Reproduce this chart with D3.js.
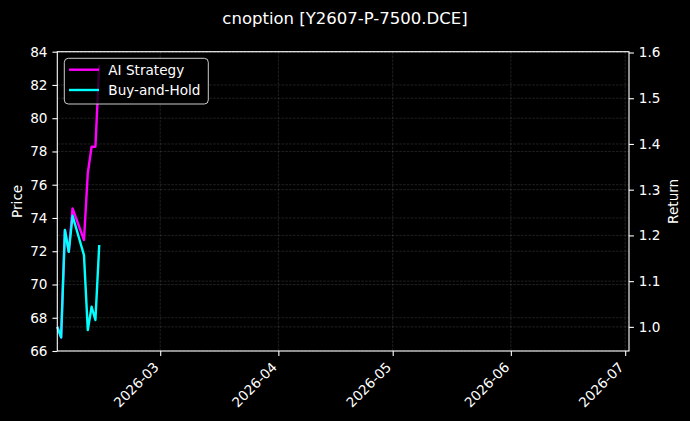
<!DOCTYPE html>
<html lang="en">
<head>
    <meta charset="UTF-8">
    <title>cnoption [Y2607-P-7500.DCE]</title>
    <script src="https://d3js.org/d3.v7.min.js"></script>
    <style>
        body {
            margin: 0;
            padding: 0;
            background-color: #000000;
        }
        svg text {
            font-family: "DejaVu Sans", sans-serif;
            fill: #ffffff;
        }
        .grid line {
            stroke: #8a8a8a;
            stroke-opacity: 0.4;
            stroke-width: 0.6;
            stroke-dasharray: 2.6, 1.2;
        }
    </style>
</head>
<body>
    <div id="chart"></div>

    <script>
        // trading days and equity curves (normalised to 1.0)
        const dates = ["2026-02-02", "2026-02-03", "2026-02-04", "2026-02-05", "2026-02-06",
                       "2026-02-09", "2026-02-10", "2026-02-11", "2026-02-12", "2026-02-13"];
        const aiStrategy = [1.000, 0.977, 1.212, 1.164, 1.259, 1.190, 1.336, 1.394, 1.394, 1.572];
        const buyHold    = [1.000, 0.977, 1.212, 1.164, 1.243, 1.157, 0.993, 1.044, 1.015, 1.179];

        const xRange = ["2026-02-02", "2026-07-02"];
        const monthTicks = ["2026-03-01", "2026-04-01", "2026-05-01", "2026-06-01", "2026-07-01"];
        const priceRange = [66, 84];
        const priceTicks = [66, 68, 70, 72, 74, 76, 78, 80, 82, 84];
        const returnTicks = [1.0, 1.1, 1.2, 1.3, 1.4, 1.5, 1.6];

        const width = 690;
        const height = 421;
        const margin = {top: 51.7, right: 61, bottom: 70, left: 57.3};
        const innerW = width - margin.left - margin.right;
        const innerH = height - margin.top - margin.bottom;
        const tickLen = 4.9;
        const fontSize = 13.6;

        const parse = d3.utcParse("%Y-%m-%d");

        const svg = d3.select("#chart")
            .append("svg")
            .attr("width", width)
            .attr("height", height)
            .style("background", "#000");

        const g = svg.append("g")
            .attr("transform", `translate(${margin.left},${margin.top})`);

        const x = d3.scaleUtc()
            .domain(xRange.map(parse))
            .range([0, innerW]);

        const yPrice = d3.scaleLinear()
            .domain(priceRange)
            .range([innerH, 0]);

        // matplotlib style 5% autoscale margin on the return axis
        const allRet = aiStrategy.concat(buyHold);
        const rMin = d3.min(allRet), rMax = d3.max(allRet);
        const pad = (rMax - rMin) * 0.05;
        const yRet = d3.scaleLinear()
            .domain([rMin - pad, rMax + pad])
            .range([innerH, 0]);

        // grid
        const grid = g.append("g").attr("class", "grid");
        grid.selectAll(".vx")
            .data(monthTicks.map(parse))
            .enter().append("line")
            .attr("x1", d => x(d)).attr("x2", d => x(d))
            .attr("y1", 0).attr("y2", innerH);
        grid.selectAll(".hp")
            .data(priceTicks)
            .enter().append("line")
            .attr("x1", 0).attr("x2", innerW)
            .attr("y1", d => yPrice(d)).attr("y2", d => yPrice(d));
        grid.selectAll(".hr")
            .data(returnTicks)
            .enter().append("line")
            .attr("x1", 0).attr("x2", innerW)
            .attr("y1", d => yRet(d)).attr("y2", d => yRet(d));

        // lines
        const pts = arr => arr.map((v, i) => [parse(dates[i]), v]);
        const line = d3.line()
            .x(d => x(d[0]))
            .y(d => yRet(d[1]));

        const plot = g.append("g");
        plot.append("path")
            .datum(pts(aiStrategy))
            .attr("fill", "none")
            .attr("stroke", "#ff00ff")
            .attr("stroke-width", 2.4)
            .attr("stroke-linejoin", "round")
            .attr("d", line);
        plot.append("path")
            .datum(pts(buyHold))
            .attr("fill", "none")
            .attr("stroke", "#00ffff")
            .attr("stroke-width", 2.4)
            .attr("stroke-linejoin", "round")
            .attr("d", line);

        // axes
        function styleAxis(sel) {
            sel.select(".domain").remove();
            sel.selectAll(".tick line").attr("stroke", "#fff").attr("stroke-width", 1.1);
            sel.selectAll(".tick text")
                .style("font-size", fontSize + "px")
                .attr("fill", "#fff");
        }

        const xAxis = g.append("g")
            .attr("transform", `translate(0,${innerH})`)
            .call(d3.axisBottom(x)
                .tickValues(monthTicks.map(parse))
                .tickFormat(d3.utcFormat("%Y-%m"))
                .tickSize(tickLen)
                .tickPadding(0));
        styleAxis(xAxis);
        xAxis.selectAll(".tick text")
            .attr("text-anchor", "end")
            .attr("dy", null)
            .attr("y", null)
            .attr("transform", "translate(-1,17) rotate(-45)");

        const yAxisL = g.append("g")
            .call(d3.axisLeft(yPrice)
                .tickValues(priceTicks)
                .tickSize(tickLen)
                .tickPadding(4.9));
        styleAxis(yAxisL);

        const yAxisR = g.append("g")
            .attr("transform", `translate(${innerW},0)`)
            .call(d3.axisRight(yRet)
                .tickValues(returnTicks)
                .tickFormat(d3.format(".1f"))
                .tickSize(tickLen)
                .tickPadding(4.9));
        styleAxis(yAxisR);

        // frame
        g.append("rect")
            .attr("width", innerW)
            .attr("height", innerH)
            .attr("fill", "none")
            .attr("stroke", "#fff")
            .attr("stroke-width", 1.1);

        // axis labels
        svg.append("text")
            .attr("transform", `translate(22,${margin.top + innerH / 2}) rotate(-90)`)
            .attr("text-anchor", "middle")
            .style("font-size", fontSize + "px")
            .text("Price");
        svg.append("text")
            .attr("transform", `translate(678,${margin.top + innerH / 2}) rotate(-90)`)
            .attr("text-anchor", "middle")
            .style("font-size", fontSize + "px")
            .text("Return");

        // title
        svg.append("text")
            .attr("x", width / 2)
            .attr("y", 23.5)
            .attr("text-anchor", "middle")
            .style("font-size", "16.5px")
            .text("cnoption [Y2607-P-7500.DCE]");

        // legend
        const legend = g.append("g")
            .attr("transform", "translate(7,6.6)");
        legend.append("rect")
            .attr("width", 144)
            .attr("height", 45.7)
            .attr("rx", 4)
            .attr("fill", "#000")
            .attr("fill-opacity", 0.8)
            .attr("stroke", "#cccccc")
            .attr("stroke-width", 1);
        const items = [
            {label: "AI Strategy", color: "#ff00ff"},
            {label: "Buy-and-Hold", color: "#00ffff"}
        ];
        const li = legend.selectAll(".item")
            .data(items)
            .enter().append("g")
            .attr("transform", (d, i) => `translate(0,${11.4 + i * 20.3})`);
        li.append("line")
            .attr("x1", 4.7).attr("x2", 34.7)
            .attr("stroke", d => d.color)
            .attr("stroke-width", 2.4);
        li.append("text")
            .attr("x", 44)
            .attr("dy", "0.36em")
            .style("font-size", fontSize + "px")
            .text(d => d.label);
    </script>
</body>
</html>
